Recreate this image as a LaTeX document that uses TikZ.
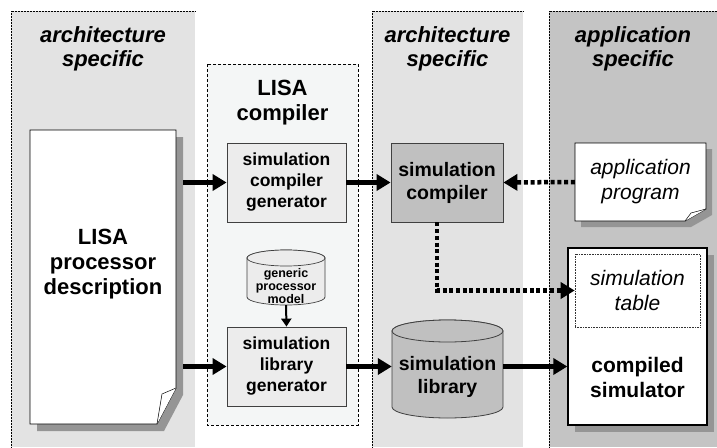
\documentclass[tikz,border=0pt]{standalone}
\usepackage{fontspec}
\setmainfont{Liberation Sans}
\usetikzlibrary{arrows.meta}

\definecolor{archfill}{HTML}{E3E3E3}
\definecolor{appfill}{HTML}{C4C4C4}
\definecolor{lisafill}{HTML}{F4F6F6}
\definecolor{boxfill}{HTML}{ECECEC}
\definecolor{darkfill}{HTML}{C0C0C0}
\definecolor{shadowgray}{HTML}{959595}

\tikzset{
  colhead/.style={align=center, font=\fontsize{22}{24}\selectfont\bfseries\itshape},
  genbox/.style={draw=black!75, fill=boxfill, line width=0.8pt, minimum width=119, minimum height=79,
    align=center, font=\fontsize{17.5}{21}\selectfont\bfseries},
  bigtext/.style={align=center, inner sep=0pt, font=\fontsize{21}{25}\selectfont\bfseries},
  slanttext/.style={align=center, inner sep=0pt, font=\fontsize{21}{25}\selectfont\itshape},
  flowarrow/.style={line width=4.5pt, -{Triangle[length=14pt,width=16pt]}},
  dotarrow/.style={line width=4.5pt, dash pattern=on 4pt off 2.7pt, -{Triangle[length=14pt,width=16pt]}},
}

\begin{document}
\begin{tikzpicture}[x=1pt,y=-1pt]
  \useasboundingbox (0,0) rectangle (717,447);

  % the three columns
  \fill[archfill] (11,11) rectangle (195,447);
  \draw[densely dotted, line width=0.5pt] (11,447) -- (11,11) -- (195,11);
  \fill[archfill] (372,11) rectangle (523,447);
  \draw[densely dotted, line width=0.5pt] (372,447) -- (372,11) -- (523,11);
  \fill[appfill] (549,11) rectangle (717,447);
  \draw[densely dotted, line width=0.5pt] (549,447) -- (549,11) -- (717,11);

  \node[colhead] (arch1) at (103,49) {architecture\\specific};
  \node[colhead] (arch2) at (447.5,49) {architecture\\specific};
  \node[colhead] (appspec) at (633,49) {application\\specific};

  % LISA compiler frame
  \draw[fill=lisafill, line width=0.6pt, dash pattern=on 3pt off 2pt] (207,64) rectangle (358,425);
  \node[align=center, font=\fontsize{22}{25}\selectfont\bfseries] (lisacomp) at (282.5,103) {LISA\\compiler};

  % LISA processor description page
  \fill[shadowgray] (37,137) -- (183,137) -- (183,395) -- (164,431) -- (37,431) -- cycle;
  \draw[fill=white, line width=0.8pt] (30,130) -- (176,130) -- (176,388) -- (157,424) -- (30,424) -- cycle;
  \draw[fill=white, line width=0.5pt] (176,388) -- (162,394) -- (157,424);
  \node[bigtext, font=\fontsize{22}{25}\selectfont\bfseries, minimum width=146] (lisa) at (103,264)
    {LISA\\processor\\description};

  \node[genbox] (scg) at (286.5,182.5) {simulation\\compiler\\generator};
  \node[genbox] (slg) at (286.5,366.5) {simulation\\library\\generator};

  % generic processor model
  \draw[draw=black!75, fill=boxfill, line width=0.7pt] (247,258) -- (247,297)
    arc[start angle=180, end angle=0, x radius=39, y radius=8] -- (325,258)
    arc[start angle=0, end angle=-180, x radius=39, y radius=8];
  \draw[draw=black!75, fill=boxfill, line width=0.7pt] (286,258) ellipse[x radius=39, y radius=8];
  \node[align=center, inner sep=0pt, minimum width=78, minimum height=38,
    font=\fontsize{12.5}{13}\selectfont\bfseries] (gpm) at (286,286) {generic\\processor\\model};

  % architecture specific tools
  \node[draw=black!75, fill=darkfill, line width=0.8pt, minimum width=112, minimum height=79,
    align=center, font=\fontsize{19.5}{23}\selectfont\bfseries] (simcomp) at (447,182.5) {simulation\\compiler};

  \draw[draw=black!75, fill=darkfill, line width=0.8pt] (392,331) -- (392,407)
    arc[start angle=180, end angle=0, x radius=55.5, y radius=11] -- (503,331)
    arc[start angle=0, end angle=-180, x radius=55.5, y radius=11];
  \draw[draw=black!75, fill=darkfill, line width=0.8pt] (447.5,331) ellipse[x radius=55.5, y radius=11];
  \node[bigtext, font=\fontsize{19.5}{23}\selectfont\bfseries, minimum width=111] (simlib) at (447.5,377)
    {simulation\\library};

  % application program page
  \fill[shadowgray] (581,149) -- (712,149) -- (712,215) -- (691,227) -- (581,227) -- cycle;
  \draw[fill=white, line width=0.8pt] (575,143) -- (706,143) -- (706,209) -- (685,221) -- (575,221) -- cycle;
  \draw[fill=white, line width=0.5pt] (706,209) -- (691,213) -- (685,221);
  \node[slanttext, minimum width=131, minimum height=78] (app) at (640.5,182) {application\\program};

  % compiled simulator
  \fill[shadowgray] (575,255) rectangle (714,432);
  \node[draw, fill=white, line width=1.3pt, minimum width=139, minimum height=177] (csim) at (637.5,336.5) {};
  \node[draw=black!80, densely dotted, line width=0.6pt, minimum width=125, minimum height=73,
    slanttext] (tab) at (637.5,290.5) {simulation\\table};
  \node[bigtext] (csimtxt) at (637.5,377) {compiled\\simulator};

  % connections
  \draw[flowarrow, shorten <=7pt] (lisa.east |- scg.west) -- (scg.west);
  \draw[flowarrow, shorten <=7pt] (lisa.east |- slg.west) -- (slg.west);
  \draw[flowarrow] (scg.east) -- (simcomp.west);
  \draw[line width=2pt, -{Triangle[length=8pt,width=10pt]}] (gpm.south) -- (slg.north);
  \draw[flowarrow] (slg.east) -- (slg.east -| simlib.west);
  \draw[flowarrow] (simlib.east |- slg.east) -- (csim.west |- slg.east);
  \draw[dotarrow] (app.west) -- (simcomp.east);
  \draw[dotarrow] ([xshift=-10pt]simcomp.south) |- (tab.west);
\end{tikzpicture}
\end{document}
